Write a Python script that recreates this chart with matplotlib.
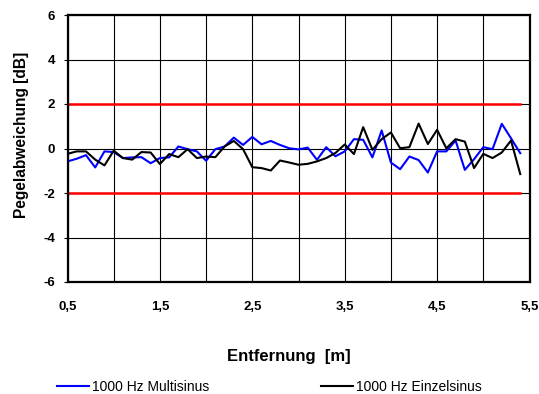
import matplotlib
matplotlib.use("Agg")
import matplotlib.pyplot as plt
from matplotlib.ticker import FixedLocator, FuncFormatter

plt.rcParams['font.family'] = ['Liberation Sans', 'DejaVu Sans']

distance = [round(0.5 + 0.1 * i, 1) for i in range(50)]
multisinus = [-0.58, -0.46, -0.30, -0.85, -0.13, -0.16, -0.43, -0.40, -0.39, -0.66,
              -0.43, -0.40, 0.09, -0.03, -0.13, -0.55, -0.03, 0.09, 0.49, 0.16,
              0.52, 0.19, 0.34, 0.16, 0.01, -0.04, 0.04, -0.51, 0.06, -0.35,
              -0.13, 0.42, 0.39, -0.40, 0.81, -0.63, -0.93, -0.36, -0.52, -1.08,
              -0.13, -0.13, 0.36, -0.96, -0.48, 0.06, -0.03, 1.11, 0.46, -0.21]
einzelsinus = [-0.24, -0.13, -0.13, -0.50, -0.76, -0.10, -0.43, -0.50, -0.16, -0.18,
               -0.70, -0.25, -0.39, -0.03, -0.43, -0.36, -0.39, 0.09, 0.34, -0.03,
               -0.84, -0.88, -0.99, -0.54, -0.63, -0.73, -0.69, -0.58, -0.43, -0.20,
               0.18, -0.25, 0.96, -0.06, 0.42, 0.72, 0.01, 0.06, 1.12, 0.20,
               0.84, 0.01, 0.42, 0.31, -0.88, -0.24, -0.43, -0.18, 0.36, -1.15]
upper_limit = [2.0] * len(distance)
lower_limit = [-2.0] * len(distance)
x_ticks = [0.5, 1.5, 2.5, 3.5, 4.5, 5.5]
x_grid = [1.0, 2.0, 3.0, 4.0, 5.0]
y_ticks = [-6, -4, -2, 0, 2, 4, 6]

fig = plt.figure(figsize=(5.39, 3.94), dpi=100)
ax = fig.add_axes([67.5/539, 1-282/394, (529.5-67.5)/539, (282-15)/394])

ax.set_xlim(0.5, 5.5)
ax.set_ylim(-6, 6)
ax.xaxis.set_major_locator(FixedLocator(x_ticks))
ax.xaxis.set_minor_locator(FixedLocator(x_grid))
ax.yaxis.set_major_locator(FixedLocator(y_ticks))
ax.grid(True, which='both', color='black', linewidth=0.8)
ax.set_axisbelow(True)

fmt = FuncFormatter(lambda v, p: f"{v:g}".replace('.', ','))
ax.xaxis.set_major_formatter(fmt)
ax.yaxis.set_major_formatter(fmt)

ax.plot(distance, upper_limit, color='#ff0000', linewidth=1.8)
ax.plot(distance, lower_limit, color='#ff0000', linewidth=1.8)
l1, = ax.plot(distance, multisinus, color='#0000ff', linewidth=1.5)
l2, = ax.plot(distance, einzelsinus, color='black', linewidth=1.5)

for s in ax.spines.values():
    s.set_linewidth(1.6)

ax.tick_params(axis='both', which='both', length=3, width=0.8, direction='out')
ax.tick_params(axis='y', which='major', pad=6)
ax.tick_params(axis='x', which='minor', length=0)
ax.tick_params(axis='x', which='major', pad=14, length=0)
for lab in ax.get_xticklabels() + ax.get_yticklabels():
    lab.set_fontweight('bold')
    lab.set_fontsize(9.5)

fig.text(22/539, 1-135/394, 'Pegelabweichung [dB]', ha='center', va='center',
         rotation=90, fontsize=11.2, fontweight='bold')
fig.text(289/539, 1-356/394, 'Entfernung  [m]', ha='center', va='center',
         fontsize=12, fontweight='bold')

fig.legend([l1, l2], ['1000 Hz Multisinus', '1000 Hz Einzelsinus'],
           loc='center left', bbox_to_anchor=(57/539, 1-387/394), ncol=2,
           frameon=False, fontsize=10, handlelength=2.3, handletextpad=0.2,
           columnspacing=8.1, borderpad=0, borderaxespad=0)

fig.savefig('out.png', dpi=100)
